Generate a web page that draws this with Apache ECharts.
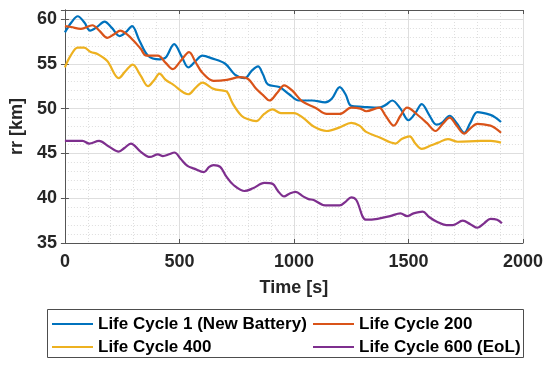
<!DOCTYPE html>
<html><head><meta charset="utf-8">
<script src="https://cdn.jsdelivr.net/npm/echarts@6/dist/echarts.min.js"></script>
<style>html,body{margin:0;padding:0;background:#fff}#c{width:550px;height:366px}</style>
</head><body><div id="c"></div>
<script>
var seriesNames = ['Life Cycle 1 (New Battery)', 'Life Cycle 200', 'Life Cycle 400', 'Life Cycle 600 (EoL)'];
var colors = ['#0072BD', '#D95319', '#EDB120', '#7E2F8E'];
var xTitle = 'Time [s]';
var yTitle = 'rr [km]';

var lc1 = [[0,58.5],[28,59.6],[56,60.3],[85,59.6],[110,58.7],[140,59.1],[173,59.7],[205,59.0],[239,58.1],[265,58.5],[293,59.2],[325,57.6],[363,55.9],[413,55.5],[440,55.7],[477,57.2],[510,55.8],[539,54.6],[570,55.3],[600,55.9],[642,55.6],[700,55.0],[742,53.8],[785,53.4],[815,54.2],[843,54.7],[865,53.8],[886,52.7],[936,52.4],[979,51.6],[1021,50.9],[1079,50.9],[1136,50.7],[1165,51.1],[1200,52.4],[1225,51.6],[1250,50.3],[1300,50.2],[1372,50.1],[1400,50.4],[1429,50.9],[1465,50.0],[1500,48.7],[1530,49.5],[1558,50.5],[1590,49.3],[1622,48.2],[1645,48.4],[1680,49.2],[1710,48.4],[1744,47.3],[1770,48.4],[1801,49.6],[1858,49.3],[1880,49.0],[1904,48.5]];
var lc200 = [[0,59.2],[27,59.1],[70,58.9],[120,59.3],[150,58.7],[185,57.9],[215,58.3],[242,58.7],[270,58.3],[299,57.6],[330,56.7],[356,55.9],[406,55.9],[440,55.1],[471,54.4],[505,55.3],[542,56.3],[570,55.2],[600,54.0],[649,53.1],[707,53.2],[764,53.5],[800,53.3],[835,52.2],[865,51.5],[893,50.9],[928,51.8],[957,52.6],[993,52.0],[1036,50.8],[1093,50.1],[1143,49.4],[1200,49.4],[1250,50.1],[1290,50.0],[1315,49.7],[1372,50.1],[1400,49.2],[1436,48.1],[1465,49.2],[1494,50.1],[1544,49.2],[1580,48.4],[1618,47.5],[1650,48.3],[1680,49.0],[1710,48.1],[1744,47.2],[1770,47.8],[1801,48.3],[1858,48.1],[1880,47.8],[1904,47.3]];
var lc400 = [[0,54.6],[25,55.9],[56,56.8],[84,56.8],[113,56.3],[142,56.1],[185,55.3],[235,53.4],[265,54.2],[296,54.9],[330,53.7],[363,52.5],[390,53.2],[413,53.9],[440,53.2],[471,52.7],[539,51.6],[570,52.3],[600,52.9],[649,52.2],[691,52.0],[707,51.9],[734,50.5],[771,49.2],[800,48.8],[835,48.6],[870,49.4],[907,49.9],[943,49.5],[1000,49.5],[1043,48.9],[1086,48.0],[1143,47.5],[1200,47.9],[1250,48.4],[1286,48.1],[1315,47.4],[1372,46.8],[1443,46.1],[1470,46.6],[1505,46.9],[1530,46.1],[1558,45.5],[1600,45.9],[1630,46.2],[1672,46.6],[1715,46.3],[1815,46.4],[1860,46.4],[1904,46.2]];
var lc600 = [[0,46.4],[77,46.4],[106,46.1],[149,46.4],[190,45.8],[235,45.2],[260,45.6],[288,46.1],[330,45.2],[371,44.6],[406,44.9],[428,44.7],[455,44.9],[478,45.1],[505,44.4],[535,43.6],[564,43.3],[607,42.9],[630,43.5],[649,43.7],[678,43.5],[705,42.4],[735,41.5],[785,40.8],[821,41.1],[871,41.7],[907,41.6],[930,40.8],[957,40.2],[980,40.5],[1007,40.7],[1040,40.2],[1064,39.9],[1086,39.8],[1136,39.2],[1200,39.2],[1225,39.6],[1250,40.1],[1272,39.8],[1315,37.6],[1365,37.7],[1420,38.0],[1465,38.3],[1494,38.0],[1522,38.3],[1562,38.5],[1590,37.9],[1622,37.4],[1665,37.0],[1694,37.0],[1737,37.5],[1770,37.1],[1801,36.7],[1830,37.2],[1858,37.7],[1887,37.6],[1908,37.2]];
var allData = [lc1, lc200, lc400, lc600];

var FONT = "'Liberation Sans', Arial, Helvetica, sans-serif";
var AX = '#555555';
var LBL = '#262626';
var GRID = '#dedede';

function mainX() {
  return {
    type: 'value', min: 0, max: 2000, interval: 500, position: 'bottom',
    name: xTitle, nameLocation: 'middle', nameGap: 36,
    nameTextStyle: {fontFamily: FONT, fontWeight: 'bold', fontSize: 18, color: LBL},
    axisLine: {show: true, lineStyle: {color: AX, width: 1}},
    axisTick: {show: true, inside: true, length: 4, lineStyle: {color: AX}},
    axisLabel: {fontFamily: FONT, fontWeight: 'bold', fontSize: 18, color: LBL, margin: 10,
      formatter: function (v) { return String(v); }},
    splitLine: {show: true, lineStyle: {color: GRID, width: 1}},
    minorTick: {show: false, splitNumber: 5},
    minorSplitLine: {show: true, lineStyle: {color: GRID, type: [1, 2], width: 1}}
  };
}
function mainY() {
  return {
    type: 'value', min: 35, max: 61, interval: 5, position: 'left',
    name: yTitle, nameLocation: 'middle', nameGap: 34,
    nameTextStyle: {fontFamily: FONT, fontWeight: 'bold', fontSize: 18, color: LBL},
    axisLine: {show: true, lineStyle: {color: AX, width: 1}},
    axisTick: {show: true, inside: true, length: 4, lineStyle: {color: AX}},
    axisLabel: {fontFamily: FONT, fontWeight: 'bold', fontSize: 18, color: LBL, margin: 8, showMaxLabel: false,
      formatter: function (v) { return v % 5 === 0 ? String(v) : ''; }},
    splitLine: {show: true, lineStyle: {color: GRID, width: 1}},
    minorTick: {show: false, splitNumber: 5},
    minorSplitLine: {show: true, lineStyle: {color: GRID, type: [1, 2], width: 1}}
  };
}
var chart = echarts.init(document.getElementById('c'), null, {renderer: 'canvas'});
var series = allData.map(function (d, i) {
  return {
    name: seriesNames[i], type: 'line', data: d, xAxisIndex: 0, yAxisIndex: 0,
    showSymbol: false, symbol: 'none', smooth: 0.35,
    lineStyle: {color: colors[i], width: 2.2}, itemStyle: {color: colors[i]},
    emphasis: {disabled: true}, animation: false, z: 2 + i
  };
});
var legendText = {fontFamily: FONT, fontWeight: 'bold', fontSize: 17, color: '#000', lineHeight: 18};
chart.setOption({
  animation: false,
  backgroundColor: '#ffffff',
  color: colors,
  grid: {left: 57, right: 27, top: 10, bottom: 123, containLabel: false},
  xAxis: [mainX(), {
    type: 'value', min: 0, max: 2000, interval: 500, position: 'top',
    axisLine: {show: true, lineStyle: {color: AX}},
    axisTick: {show: true, inside: true, length: 4, lineStyle: {color: AX}},
    axisLabel: {show: false}, splitLine: {show: false}
  }],
  yAxis: [mainY(), {
    type: 'value', min: 35, max: 61, interval: 5, position: 'right',
    axisLine: {show: true, lineStyle: {color: AX}},
    axisTick: {show: true, inside: true, length: 4, lineStyle: {color: AX}},
    axisLabel: {show: false}, splitLine: {show: false}
  }],
  legend: [{
    orient: 'vertical', left: 52, top: 315, padding: 0, itemGap: 5,
    itemWidth: 41, itemHeight: 2, icon: 'rect',
    data: [seriesNames[0], seriesNames[2]], textStyle: legendText, selectedMode: false
  }, {
    orient: 'vertical', left: 313, top: 315, padding: 0, itemGap: 5,
    itemWidth: 41, itemHeight: 2, icon: 'rect',
    data: [seriesNames[1], seriesNames[3]], textStyle: legendText, selectedMode: false
  }],
  graphic: [{
    type: 'rect', left: 47, top: 309, z: -1,
    shape: {x: 0, y: 0, width: 476, height: 48},
    style: {fill: '#fff', stroke: '#4d4d4d', lineWidth: 1}
  }],
  series: series
});
</script></body></html>
